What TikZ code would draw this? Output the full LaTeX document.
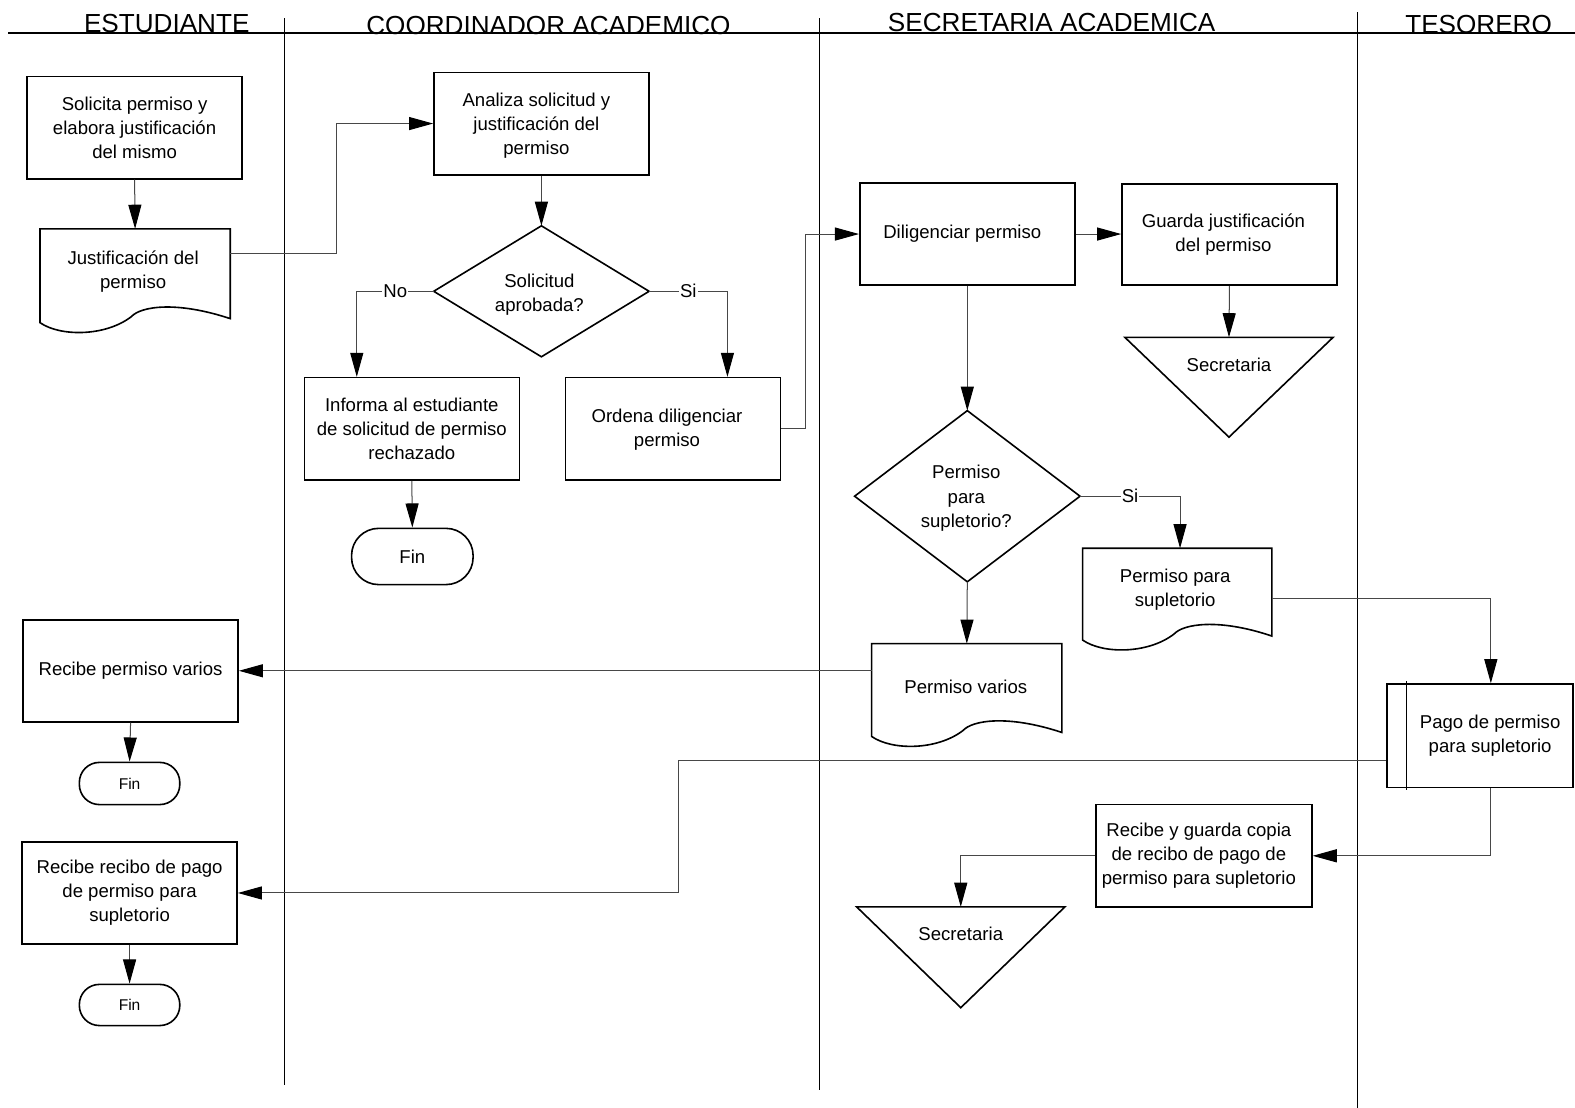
\documentclass[tikz,border=0pt]{standalone}
\usepackage{fontspec}
\setmainfont{Liberation Sans}
\usetikzlibrary{arrows.meta,calc}
\newcommand\boxfont{\fontsize{18.5}{24}\selectfont}
\newcommand\finfont{\fontsize{15.5}{18}\selectfont}
\newcommand\headfont{\fontsize{26}{30}\selectfont}
\newcommand\docshape[1]{%
  \draw[bord] ($(#1.south east)+(0,-4)$) -- (#1.north east) -- (#1.north west) -- (#1.south west)
    .. controls ($(#1.south west)+(20,14)$) and ($(#1.south west)+(65,14)$) .. ($(#1.south west)+(91,-6)$)
    .. controls ($(#1.south west)+(100,-16)$) and ($(#1.south west)+(135,-22)$) .. ($(#1.south east)+(0,-4)$) -- cycle;}
\begin{document}
\begin{tikzpicture}[x=1pt,y=-1pt,
  bord/.style={draw=black,line width=1.6pt,line join=miter},
  box/.style={draw=black,line width=1.6pt,rectangle,minimum width=214pt,minimum height=102pt,align=center,inner sep=1pt,font=\boxfont},
  frame/.style={rectangle,inner sep=0pt,align=center,font=\boxfont},
  finbox/.style={draw=black,line width=1.6pt,rectangle,align=center,inner sep=0pt},
  conn/.style={draw=black!72,line width=1pt,-{Triangle[length=24pt,width=13pt,color=black,fill=black]}},
  lbl/.style={fill=white,inner sep=1pt,font=\boxfont},
  lane/.style={draw=black,line width=1pt},
  head/.style={anchor=base,font=\headfont,inner sep=0pt}]
\useasboundingbox (0,0) rectangle (1568,1103);

% header
\draw[line width=1.5pt] (8,33) -- (1568,33);
\node[head] (hEst) at (166,32) {ESTUDIANTE};
\node[head] (hCoo) at (546,34) {COORDINADOR ACADEMICO};
\node[head] (hSec) at (1047,31) {SECRETARIA ACADEMICA};
\node[head] (hTes) at (1472,33) {TESORERO};
\draw[lane] (283,18) -- (283,1080);
\draw[lane] (816,18) -- (816,1085);
\draw[lane] (1351,12) -- (1351,1103);

% ESTUDIANTE lane
\node[box] (sol) at (134,127) {Solicita permiso y\\elabora justificación\\del mismo};
\node[frame,minimum width=189pt,minimum height=93pt] (just) at (134.5,274.5) {};
\docshape{just}
\node[frame] (justt) at ($(just.center)+(-2,-4.5)$) {Justificación del\\permiso};
\node[box,minimum height=101pt] (rpv) at (130,668) {Recibe permiso varios};
\node[finbox,minimum width=100pt,minimum height=42pt,rounded corners=20pt,font=\finfont] (fin2) at (129,780) {Fin};
\node[box] (rrp) at (129,889) {Recibe recibo de pago\\de permiso para\\supletorio};
\node[finbox,minimum width=100pt,minimum height=41pt,rounded corners=20pt,font=\finfont] (fin3) at (129,1000.5) {Fin};

% COORDINADOR lane
\node[box] (anal) at (539,123) {};
\node[frame] (analt) at ($(anal.center)+(-5,2)$) {Analiza solicitud y\\justificación del\\permiso};
\node[frame,minimum width=214pt,minimum height=130pt] (dec1) at (539,290) {};
\draw[bord] (dec1.north) -- (dec1.east) -- (dec1.south) -- (dec1.west) -- cycle;
\node[frame] (dec1t) at ($(dec1.center)+(-2,3)$) {Solicitud\\aprobada?};
\node[box] (inf) at (410,427) {Informa al estudiante\\de solicitud de permiso\\rechazado};
\node[box] (ord) at (670,427) {};
\node[frame] (ordt) at ($(ord.center)+(-6,1)$) {Ordena diligenciar\\permiso};
\node[finbox,minimum width=121pt,minimum height=56pt,rounded corners=27pt,font=\boxfont] (fin1) at (410.5,554) {Fin};

% SECRETARIA lane
\node[box] (dil) at (963,233) {};
\node[frame] (dilt) at ($(dil.center)+(-5,0)$) {Diligenciar permiso};
\node[box,minimum height=101pt] (gua) at (1224,233.5) {};
\node[frame] (guat) at ($(gua.center)+(-6,0)$) {Guarda justificación\\del permiso};
\node[frame,minimum width=207pt,minimum height=99pt] (sec1) at (1223.5,385.5) {};
\draw[bord] (sec1.north west) -- (sec1.north east) -- (sec1.south) -- cycle;
\node[frame] (sec1t) at ($(sec1.north)+(0,27)$) {Secretaria};
\node[frame,minimum width=224pt,minimum height=170pt] (dec2) at (963,494) {};
\draw[bord] (dec2.north) -- (dec2.east) -- (dec2.south) -- (dec2.west) -- cycle;
\node[frame] (dec2t) at ($(dec2.center)+(-1,2)$) {Permiso\\para\\supletorio?};
\node[frame,minimum width=188pt,minimum height=91pt] (pps) at (1172,591.5) {};
\docshape{pps}
\node[frame] (ppst) at ($(pps.center)+(-2,-4.5)$) {Permiso para\\supletorio};
\node[frame,minimum width=189pt,minimum height=92pt] (pv) at (962.5,687) {};
\docshape{pv}
\node[frame] (pvt) at ($(pv.center)+(-1,-3)$) {Permiso varios};
\node[box,minimum width=215pt] (rgc) at (1198.5,852) {};
\node[frame] (rgct) at ($(rgc.center)+(-5,0)$) {Recibe y guarda copia\\de recibo de pago de\\permiso para supletorio};
\node[frame,minimum width=207pt,minimum height=100pt] (sec2) at (956.5,953) {};
\draw[bord] (sec2.north west) -- (sec2.north east) -- (sec2.south) -- cycle;
\node[frame] (sec2t) at ($(sec2.north)+(0,27)$) {Secretaria};

% TESORERO lane
\node[box,minimum width=185pt,minimum height=103pt] (pago) at (1473.5,732.5) {};
\draw[bord] ($(pago.north west)+(20,-2)$) -- ($(pago.south west)+(20,2)$);
\node[frame] (pagot) at ($(pago.center)+(10,0)$) {Pago de permiso\\para supletorio};

% connectors
\draw[conn] (sol.south) -- (just.north);
\draw[conn] ($(just.north east)+(0,25)$) -- ++(106,0) |- (anal.west);
\draw[conn] (anal.south) -- (dec1.north);
\draw[conn] (dec1.west) -| node[lbl,pos=0.25] {No} ($(inf.north west)+(53,0)$);
\draw[conn] (dec1.east) -| node[lbl,pos=0.25] {Si} ($(ord.north west)+(162,0)$);
\draw[conn] (inf.south) -- (fin1.north);
\draw[conn] (ord.east) -- ++(24,0) |- (dil.west);
\draw[conn] (dil.east) -- (dil.east -| gua.west);
\draw[conn] (gua.south) -- (sec1.north);
\draw[conn] (dil.south) -- (dec2.north);
\draw[conn] (dec2.east) -| node[lbl,pos=0.25] {Si} ($(pps.north west)+(97,0)$);
\draw[conn] (dec2.south) -- (pv.north);
\coordinate (pvw) at ($(pv.north west)+(0,27)$);
\draw[conn] (pvw) -- (pvw -| rpv.east);
\draw[conn] (rpv.south) -- (fin2.north);
\coordinate (ppse) at ($(pps.north east)+(0,50)$);
\draw[conn] (ppse) -| ($(pago.north west)+(104,0)$);
\draw[conn] ($(pago.north west)+(0,77)$) -- ++(-705,0) |- (rrp.east);
\draw[conn] (rrp.south) -- (fin3.north);
\draw[conn] ($(pago.south west)+(104,0)$) |- (rgc.east);
\draw[conn] (rgc.west) -| (sec2.north);
\end{tikzpicture}
\end{document}
